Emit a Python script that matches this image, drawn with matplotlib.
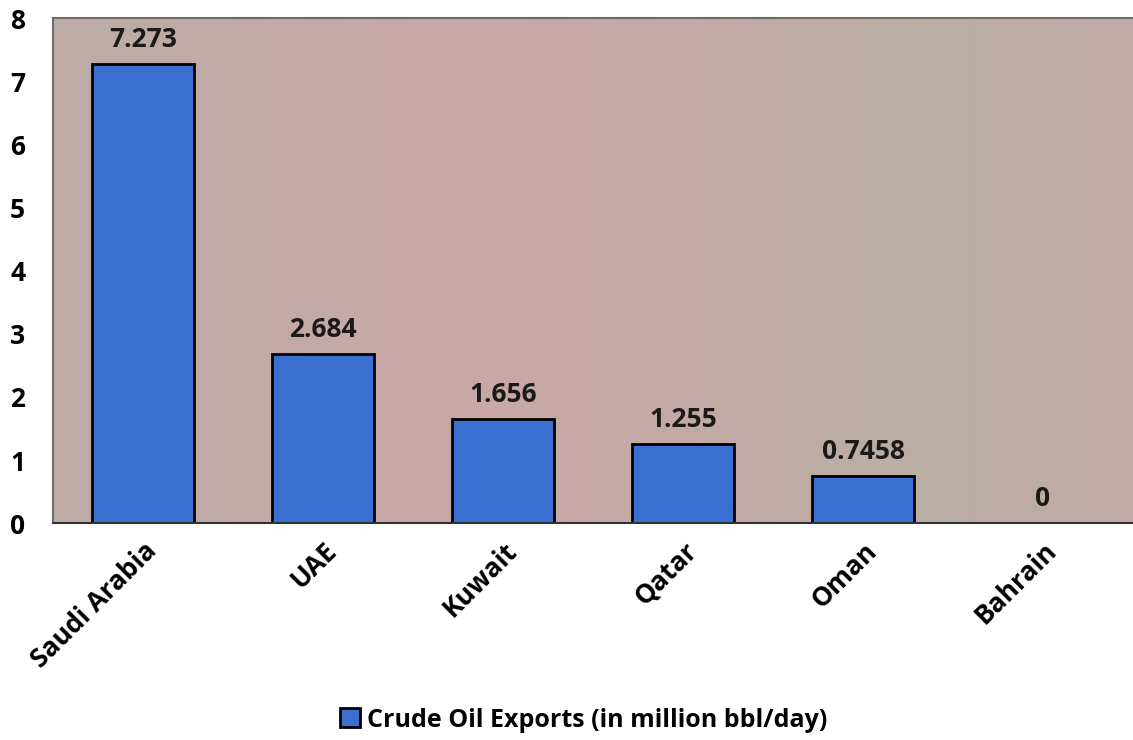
import numpy as np
import matplotlib.pyplot as plt
from matplotlib.colors import LinearSegmentedColormap

countries = ["Saudi Arabia", "UAE", "Kuwait", "Qatar", "Oman", "Bahrain"]
exports = [7.273, 2.684, 1.656, 1.255, 0.7458, 0]
value_labels = ["7.273", "2.684", "1.656", "1.255", "0.7458", "0"]
yticks = [0, 1, 2, 3, 4, 5, 6, 7, 8]

plt.rcParams['font.family'] = ['Open Sans', 'DejaVu Sans']
plt.rcParams['font.weight'] = 'bold'

fig = plt.figure(figsize=(11.33, 7.40), dpi=100)
ax = fig.add_axes([0.0468, 0.293, 0.9532, 0.6825])

# plot area background: soft horizontal gradient
bg = LinearSegmentedColormap.from_list(
    "bg", ["#bcaca7", "#c2aaa7", "#c8a8a7", "#c3aaa6", "#baaea3", "#c1aaa6"])
grad = np.linspace(0, 1, 256).reshape(1, -1)
ax.imshow(grad, cmap=bg, aspect='auto', extent=[-0.5, 5.5, 0, 8], zorder=0)

x = np.arange(len(countries))
bars = ax.bar(x, exports, width=0.57, color="#3a70d2", edgecolor="black",
              linewidth=2, zorder=2)

for xi, val, lab in zip(x, exports, value_labels):
    ax.annotate(lab, (xi, val), xytext=(0, 8), textcoords='offset points',
                ha='center', va='bottom', fontsize=19, fontweight='bold',
                color="#1a1a1a")

ax.set_xlim(-0.5, 5.5)
ax.set_ylim(0, 8)
ax.set_yticks(yticks)
ax.set_yticklabels([str(t) for t in yticks], fontsize=19, fontweight='bold')
ax.tick_params(axis='y', length=0, pad=20)
ax.tick_params(axis='x', length=0, pad=10)
ax.set_xticks(x)
ax.set_xticklabels(countries, rotation=45, ha='right', rotation_mode='anchor',
                   fontsize=19, fontweight='bold')

for side in ['top', 'left']:
    ax.spines[side].set_color("#6e6a66")
    ax.spines[side].set_linewidth(1.5)
ax.spines['bottom'].set_color("#333333")
ax.spines['bottom'].set_linewidth(1.5)
ax.spines['right'].set_visible(False)

fig.legend([bars], ["Crude Oil Exports (in million bbl/day)"],
           loc='center', bbox_to_anchor=(0.515, 0.027), frameon=False,
           prop={'size': 18, 'weight': 'bold'}, handlelength=0.8,
           handleheight=0.8, handletextpad=0.3)

fig.savefig("out.png", dpi=100)
